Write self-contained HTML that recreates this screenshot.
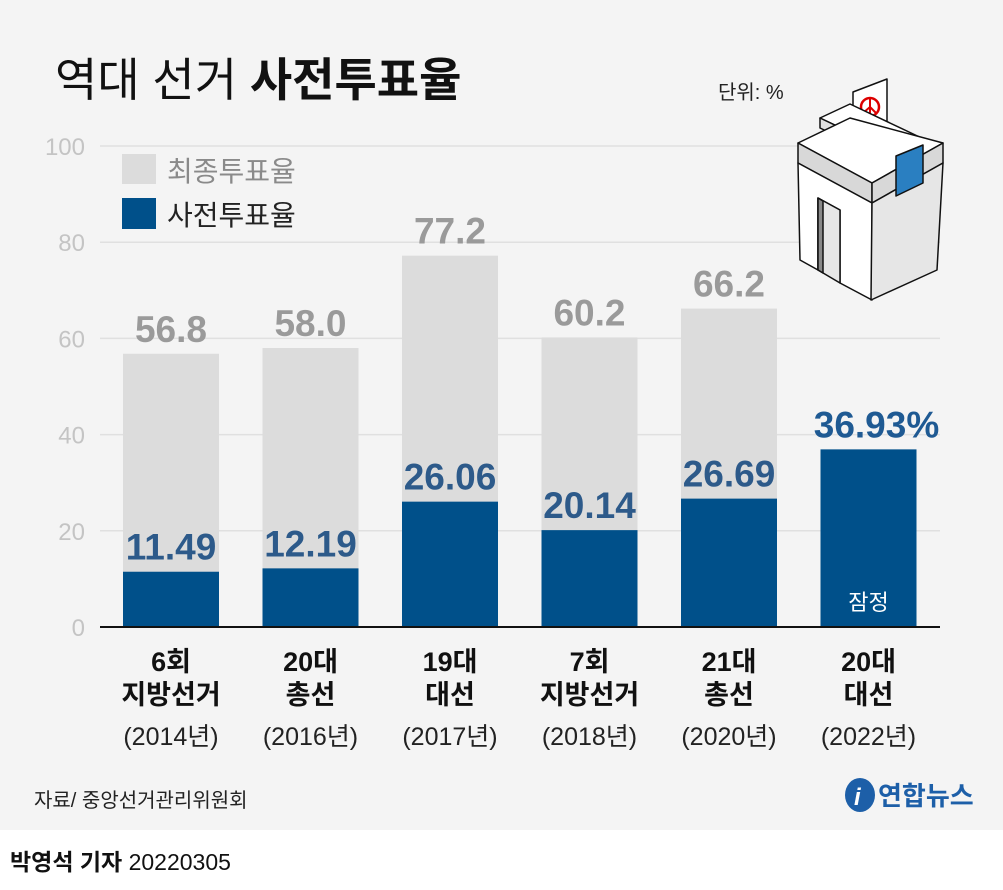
<!DOCTYPE html>
<html><head><meta charset="utf-8"><style>
body{margin:0;width:1003px;height:885px;overflow:hidden;background:#fff;font-family:"Liberation Sans","Noto Sans CJK KR",sans-serif}
</style></head><body>
<svg id="chart" width="1003" height="885" xmlns="http://www.w3.org/2000/svg" font-family="Liberation Sans, Noto Sans CJK KR, sans-serif">
<rect x="0" y="0" width="1003" height="830" fill="#f4f4f4"/>
<text x="55" y="96" font-size="46" fill="#111">역대 선거 <tspan font-weight="bold">사전투표율</tspan></text>
<text x="718" y="99" font-size="20" fill="#222">단위: %</text>
<g id="grid"></g>
<g id="bars"></g>
<g>
<rect x="122" y="154" width="34" height="30" fill="#dcdcdc"/>
<text x="167" y="181" font-size="28" fill="#8a8a8a">최종투표율</text>
<rect x="122" y="198" width="34" height="31" fill="#00508a"/>
<text x="167" y="225" font-size="28" fill="#222">사전투표율</text>
</g>
<g stroke="#111" stroke-width="1.5" stroke-linejoin="round">
<polygon points="853,92 887,79 887,128 853,141" fill="#fff"/>
<circle cx="870" cy="107" r="9" fill="none" stroke="#d00" stroke-width="2.5"/>
<path d="M870,98 L870,116 M870,107 L863,113 M870,107 L876,113" stroke="#d00" stroke-width="2" fill="none"/>
<polygon points="820,118 850,104 930,142 900,156" fill="#fff"/>
<polygon points="820,118 900,156 900,166 820,128" fill="#e0e0e0"/>
<polygon points="798,143 850,118 943,143 872,183" fill="#fff"/>
<polygon points="798,143 872,183 872,203 798,163" fill="#d8d8d8"/>
<polygon points="872,183 943,143 943,163 872,203" fill="#d8d8d8"/>
<polygon points="798,163 872,203 872,300 840,283 840,210 818,198 818,270 800,260" fill="#fff"/>
<polygon points="818,198 840,210 840,283 818,270" fill="#e6e6e6"/>
<polygon points="818,198 823,201 823,273 818,270" fill="#888"/>
<polygon points="872,203 943,163 937,270 871,300" fill="#e6e6e6"/>
<polygon points="896,156 923,145 923,183 896,196" fill="#2a7fc1"/>
</g>
<line x1="100" y1="627" x2="940" y2="627" stroke="#111" stroke-width="2"/>
<g id="xlabels"></g>
<text x="34" y="807" font-size="20" fill="#222">자료/ 중앙선거관리위원회</text>
<g>
<ellipse cx="860" cy="795" rx="15" ry="17" fill="#1d5fa8"/>
<text x="854" y="805" font-size="24" font-style="italic" font-weight="bold" fill="#fff">i</text>
<text x="878" y="805" font-size="26" font-weight="bold" fill="#1d5fa8">연합뉴스</text>
</g>
<text x="10" y="870" font-size="23" fill="#111"><tspan font-weight="bold">박영석 기자</tspan> 20220305</text>
</svg>
<script>
const categories=[["6회","지방선거","(2014년)"],["20대","총선","(2016년)"],["19대","대선","(2017년)"],["7회","지방선거","(2018년)"],["21대","총선","(2020년)"],["20대","대선","(2022년)"]];
const finalTurnout=[56.8,58.0,77.2,60.2,66.2,null];
const earlyTurnout=[11.49,12.19,26.06,20.14,26.69,36.93];
const finalLabels=["56.8","58.0","77.2","60.2","66.2",""];
const earlyLabels=["11.49","12.19","26.06","20.14","26.69","36.93%"];
const yTicks=[0,20,40,60,80,100];
const NS="http://www.w3.org/2000/svg";
const y=v=>627-v*4.81;
const xc=i=>171+i*139.5;
const bw=96;
function mk(tag,attrs,parent,txt){const e=document.createElementNS(NS,tag);for(const k in attrs)e.setAttribute(k,attrs[k]);if(txt!==undefined)e.textContent=txt;parent.appendChild(e);return e;}
const grid=document.getElementById('grid'),bars=document.getElementById('bars'),xl=document.getElementById('xlabels');
yTicks.forEach(t=>{
 if(t>0){const l=mk('line',{x1:100,x2:940,y1:y(t),y2:y(t),stroke:'#e0e0e0','stroke-width':1.5},grid);
 
 }
 const tx=mk('text',{x:85,y:y(t)+9,'font-size':24,fill:'#c4c4c4','text-anchor':'end'},grid,String(t));
 
 
});
categories.forEach((c,i)=>{
 const x=xc(i);
 if(finalTurnout[i]!=null){
  const r=mk('rect',{x:x-bw/2,y:y(finalTurnout[i]),width:bw,height:627-y(finalTurnout[i]),fill:'#dcdcdc'},bars);
  
  
  const t=mk('text',{x:x,y:y(finalTurnout[i])-12,'font-size':37,'font-weight':'bold',fill:'#9a9a9a','text-anchor':'middle'},bars,finalLabels[i]);
  
  
 }
 const b=mk('rect',{x:x-bw/2,y:y(earlyTurnout[i]),width:bw,height:627-y(earlyTurnout[i]),fill:'#00508a'},bars);
 
 
 const t2=mk('text',{x:x+(i==5?8:0),y:y(earlyTurnout[i])-12,'font-size':37,'font-weight':'bold',fill:i==5?'#1f5a93':'#2d5a8a','text-anchor':'middle'},bars,earlyLabels[i]);
 
 
 const g=mk('g',{},xl);
 
 
 mk('text',{x:x,y:671,'font-size':27,'font-weight':'bold',fill:'#111','text-anchor':'middle'},g,c[0]);
 mk('text',{x:x,y:704,'font-size':27,'font-weight':'bold',fill:'#111','text-anchor':'middle'},g,c[1]);
 mk('text',{x:x,y:745,'font-size':25,fill:'#222','text-anchor':'middle'},g,c[2]);
});
const pv=mk('text',{x:xc(5),y:610,'font-size':22,fill:'#fff','text-anchor':'middle'},bars,'잠정');


</script>
</body></html>
